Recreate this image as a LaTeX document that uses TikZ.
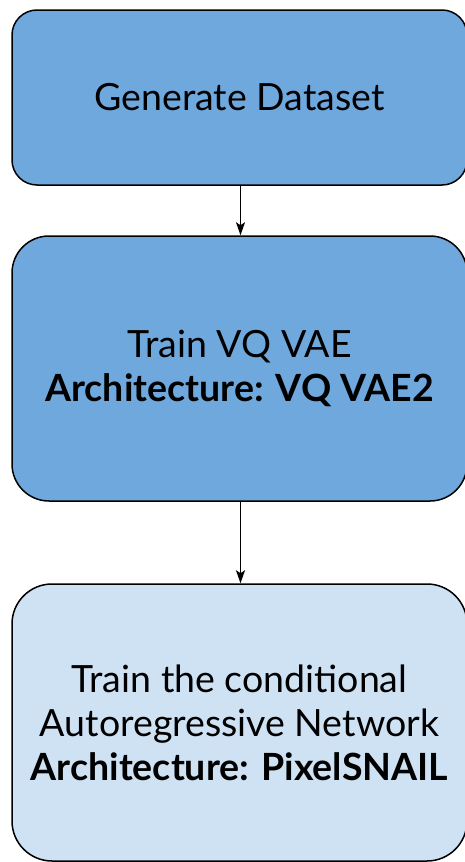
\documentclass[tikz,border=0pt]{standalone}
\usepackage{fontspec}
\setmainfont{Lato}
\usetikzlibrary{arrows.meta}
\definecolor{stepblue}{HTML}{6FA8DC}
\definecolor{steplight}{HTML}{CFE2F3}
\tikzset{
  x=1pt, y=-1pt,
  stepbox/.style={draw=black, line width=1.5pt, rectangle, minimum width=455pt,
    align=center, font=\fontsize{37.5}{44}\selectfont, inner sep=0pt},
  flow/.style={line width=1.6pt, -{Stealth[length=13pt,width=9pt,inset=3pt]}}
}
\begin{document}
\begin{tikzpicture}
\useasboundingbox (0,0) rectangle (464,862);
\node[stepbox, fill=stepblue, minimum height=175pt, rounded corners=25pt] (gen) at (239.5,97.5) {Generate Dataset};
\node[stepbox, fill=stepblue, minimum height=265pt, rounded corners=37pt] (vq) at (239.5,368.5) {Train VQ VAE\\\textbf{Architecture: VQ VAE2}};
\node[stepbox, fill=steplight, minimum height=277pt, rounded corners=40pt] (ar) at (239.5,722.5) {Train the conditional\\Autoregressive Network\\\textbf{Architecture: PixelSNAIL}};
\draw[flow] ([xshift=1pt]gen.south) -- ([xshift=1pt]vq.north);
\draw[flow] ([xshift=1pt]vq.south) -- ([xshift=1pt]ar.north);
\end{tikzpicture}
\end{document}
